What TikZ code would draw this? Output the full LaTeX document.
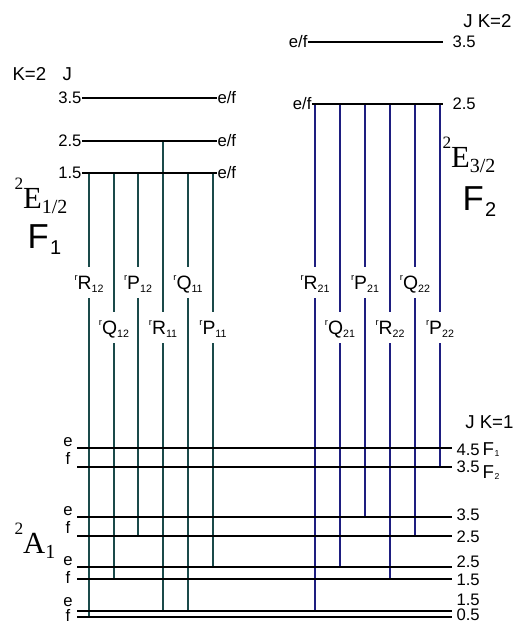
\documentclass[tikz,border=0pt]{standalone}
\usepackage{fontspec}
\setmainfont{Liberation Sans}
\newfontfamily\serifterm{Liberation Serif}
\definecolor{tealline}{RGB}{26,74,74}
\definecolor{navyline}{RGB}{30,30,128}
\newcommand{\trn}[2]{\raisebox{7pt}{\fontsize{7}{7}\selectfont r}#1\raisebox{-1.8pt}{\fontsize{8}{8}\selectfont #2}}
\newcommand{\term}[3]{\raisebox{14pt}{\fontsize{13}{13}\selectfont #1}#2\raisebox{-4pt}{\fontsize{15}{15}\selectfont #3}}
\newcommand{\comp}[2]{#1\kern1pt\raisebox{-5pt}{\fontsize{15}{15}\selectfont #2}}
\newcommand{\compsm}[2]{#1\kern0.5pt\raisebox{-1pt}{\fontsize{6.5}{6.5}\selectfont #2}}
\tikzset{every picture/.style={line width=0.75pt}}
\begin{document}
\begin{tikzpicture}[x=0.75pt,y=0.75pt,yscale=-1,xscale=1,
  level/.style={line width=1.1pt},
  trF/.style={color=tealline, line width=1pt},
  trS/.style={color=navyline, line width=1pt},
  lvl/.style={inner sep=0pt, font=\fontsize{12.5}{13}\selectfont},
  hdr/.style={inner sep=0pt, font=\fontsize{14}{15}\selectfont},
  trlab/.style={inner sep=0pt, text height=17pt, text depth=6pt, font=\fontsize{14.5}{15}\selectfont},
  term/.style={inner sep=0pt, font=\serifterm\fontsize{23}{24}\selectfont},
  bigF/.style={inner sep=0pt, font=\fontsize{26}{28}\selectfont}]
\useasboundingbox (0,0) rectangle (515,625);

% Text Node
\node [hdr, anchor=base west] (kA) at (12,80) {K=2};
% Text Node
\node [hdr, anchor=base west] (jA) at (62,80) {J};
% Text Node
\node [hdr, anchor=base east] (kB) at (512,27) {J K=2};
% Text Node
\node [hdr, anchor=base east] (kX) at (514,428) {J K=1};

%Upper levels, F1 ladder
\node [lvl, anchor=east] (a35) at (82,98) {3.5};
\node [lvl, anchor=west] (a35ef) at (217,98) {e/f};
\node [lvl, anchor=east] (a25) at (82,141) {2.5};
\node [lvl, anchor=west] (a25ef) at (217,141) {e/f};
\node [lvl, anchor=east] (a15) at (82,173) {1.5};
\node [lvl, anchor=west] (a15ef) at (217,173) {e/f};

%Upper levels, F2 ladder
\node [lvl, anchor=east] (b35ef) at (308,42) {e/f};
\node [lvl, anchor=west] (b35) at (452,42) {3.5};
\coordinate (b35end) at (443,42);
\node [lvl, anchor=east] (b25ef) at (312,104) {e/f};
\node [lvl, anchor=west] (b25) at (452,104) {2.5};
\coordinate (b25end) at (443,104);

%Lower levels
\coordinate (g1w) at (77,448); \coordinate (g1e) at (452,448);
\coordinate (g2w) at (77,467); \coordinate (g2e) at (452,467);
\coordinate (g3w) at (77,517); \coordinate (g3e) at (452,517);
\coordinate (g4w) at (77,536); \coordinate (g4e) at (452,536);
\coordinate (g5w) at (77,567); \coordinate (g5e) at (452,567);
\coordinate (g6w) at (77,579); \coordinate (g6e) at (452,579);
\coordinate (g7w) at (77,611); \coordinate (g7e) at (452,611);
\coordinate (g8w) at (77,617); \coordinate (g8e) at (452,617);

% Text Node
\node [lvl, anchor=base] (p1) at (68,446) {e};
\node [lvl, anchor=base] (p2) at (68,464) {f};
\node [lvl, anchor=base] (p3) at (68,515) {e};
\node [lvl, anchor=base] (p4) at (68,533) {f};
\node [lvl, anchor=base] (p5) at (68,565) {e};
\node [lvl, anchor=base] (p6) at (68,583) {f};
\node [lvl, anchor=base] (p7) at (68,606) {e};
\node [lvl, anchor=base] (p8) at (68,621) {f};

% Text Node
\node [lvl, anchor=west] (n1) at (456,450) {4.5};
\node [lvl, anchor=west] (n2) at (456,467) {3.5};
\node [lvl, anchor=west] (n3) at (456,515) {3.5};
\node [lvl, anchor=west] (n4) at (456,537) {2.5};
\node [lvl, anchor=west] (n5) at (456,562) {2.5};
\node [lvl, anchor=west] (n6) at (456,580) {1.5};
\node [lvl, anchor=west] (n7) at (456,600) {1.5};
\node [lvl, anchor=west] (n8) at (456,615) {0.5};
\node [hdr, anchor=base west] (c1) at (482,455) {\compsm{F}{1}};
\node [hdr, anchor=base west] (c2) at (482,478) {\compsm{F}{2}};

% Text Node
\node [term, anchor=base west] (tE12) at (14,208) {\term{2}{E}{1/2}};
\node [bigF, anchor=base west] (tF1) at (27,248) {\comp{F}{1}};
\node [term, anchor=base west] (tE32) at (442,167) {\term{2}{E}{3/2}};
\node [bigF, anchor=base west] (tF2) at (462,210) {\comp{F}{2}};
\node [term, anchor=base west] (tA1) at (14,553) {\term{2}{A}{1}};

%Transition labels
\node [trlab] (lR12) at (89,282.5) {\trn{R}{12}};
\node [trlab] (lQ12) at (114,327.5) {\trn{Q}{12}};
\node [trlab] (lP12) at (138,282.5) {\trn{P}{12}};
\node [trlab] (lR11) at (163,327.5) {\trn{R}{11}};
\node [trlab] (lQ11) at (188,282.5) {\trn{Q}{11}};
\node [trlab] (lP11) at (213,327.5) {\trn{P}{11}};
\node [trlab] (lR21) at (315,282.5) {\trn{R}{21}};
\node [trlab] (lQ21) at (340,327.5) {\trn{Q}{21}};
\node [trlab] (lP21) at (365,282.5) {\trn{P}{21}};
\node [trlab] (lR22) at (390,327.5) {\trn{R}{22}};
\node [trlab] (lQ22) at (415,282.5) {\trn{Q}{22}};
\node [trlab] (lP22) at (440,327.5) {\trn{P}{22}};

%Straight Lines, F1 transitions
\draw [trF] (lR12 |- a15) -- (lR12.north) (lR12.south) -- (lR12 |- g8w);
\draw [trF] (lQ12 |- a15) -- (lQ12.north) (lQ12.south) -- (lQ12 |- g6w);
\draw [trF] (lP12 |- a15) -- (lP12.north) (lP12.south) -- (lP12 |- g4w);
\draw [trF] (lR11 |- a25) -- (lR11.north) (lR11.south) -- (lR11 |- g7w);
\draw [trF] (lQ11 |- a15) -- (lQ11.north) (lQ11.south) -- (lQ11 |- g7w);
\draw [trF] (lP11 |- a15) -- (lP11.north) (lP11.south) -- (lP11 |- g5w);
%Straight Lines, F2 transitions
\draw [trS] (lR21 |- b25) -- (lR21.north) (lR21.south) -- (lR21 |- g7w);
\draw [trS] (lQ21 |- b25) -- (lQ21.north) (lQ21.south) -- (lQ21 |- g5w);
\draw [trS] (lP21 |- b25) -- (lP21.north) (lP21.south) -- (lP21 |- g3w);
\draw [trS] (lR22 |- b25) -- (lR22.north) (lR22.south) -- (lR22 |- g6w);
\draw [trS] (lQ22 |- b25) -- (lQ22.north) (lQ22.south) -- (lQ22 |- g4w);
\draw [trS] (lP22 |- b25) -- (lP22.north) (lP22.south) -- (lP22 |- g2w);

%Straight Lines, levels
\draw [level] (a35) -- (a35ef);
\draw [level] (a25) -- (a25ef);
\draw [level] (a15) -- (a15ef);
\draw [level] (b35ef) -- (b35end);
\draw [level] (b25ef) -- (b25end);
\draw [level] (g1w) -- (g1e);
\draw [level] (g2w) -- (g2e);
\draw [level] (g3w) -- (g3e);
\draw [level] (g4w) -- (g4e);
\draw [level] (g5w) -- (g5e);
\draw [level] (g6w) -- (g6e);
\draw [level] (g7w) -- (g7e);
\draw [level] (g8w) -- (g8e);

\end{tikzpicture}
\end{document}
